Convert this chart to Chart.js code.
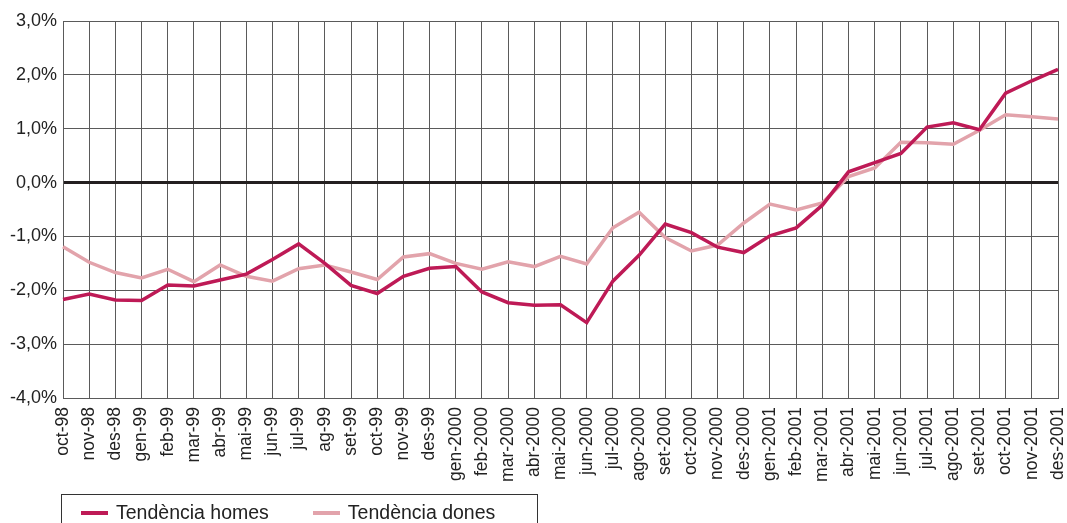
<!DOCTYPE html>
<html>
<head>
<meta charset="utf-8">
<script src="https://cdn.jsdelivr.net/npm/chart.js@4/dist/chart.umd.min.js"></script>
<style>
    html, body { margin: 0; padding: 0; background: #fff; overflow: hidden; }
    #wrap { position: relative; width: 1067px; height: 523px; }
    #legend {
        position: absolute; left: 61px; top: 494px; width: 477px; height: 40px;
        border: 1px solid #333; box-sizing: border-box;
        font-family: "Liberation Sans", Arial, sans-serif; font-size: 19.5px; color: #222;
        display: flex; align-items: flex-start; padding: 6px 0 0 19px; white-space: nowrap;
    }
    .item { display: flex; align-items: center; margin-right: 44px; flex: none; }
    .swatch { width: 27px; height: 4px; margin-right: 8px; flex: none; }
</style>
</head>
<body>
<div id="wrap">
    <canvas id="chart" width="1067" height="523"></canvas>
    <div id="legend"></div>
</div>
<script>
const months = ["oct-98", "nov-98", "des-98", "gen-99", "feb-99", "mar-99", "abr-99", "mai-99", "jun-99", "jul-99", "ag-99", "set-99", "oct-99", "nov-99", "des-99",
    "gen-2000", "feb-2000", "mar-2000", "abr-2000", "mai-2000", "jun-2000", "jul-2000", "ago-2000", "set-2000", "oct-2000", "nov-2000", "des-2000",
    "gen-2001", "feb-2001", "mar-2001", "abr-2001", "mai-2001", "jun-2001", "jul-2001", "ago-2001", "set-2001", "oct-2001", "nov-2001", "des-2001"]

const homes = [-2.17, -2.07, -2.18, -2.19, -1.90, -1.92, -1.81, -1.70, -1.43, -1.14, -1.50, -1.91, -2.06, -1.74, -1.59,
    -1.56, -2.03, -2.23, -2.28, -2.27, -2.60, -1.83, -1.35, -0.77, -0.93, -1.20, -1.30,
    -0.99, -0.84, -0.42, 0.20, 0.37, 0.54, 1.03, 1.11, 0.98, 1.66, 1.89, 2.10]

const dones = [-1.19, -1.48, -1.67, -1.77, -1.61, -1.84, -1.53, -1.74, -1.83, -1.60, -1.53, -1.66, -1.80, -1.38, -1.32,
    -1.50, -1.61, -1.47, -1.56, -1.37, -1.51, -0.84, -0.55, -1.02, -1.27, -1.16, -0.75,
    -0.40, -0.51, -0.38, 0.11, 0.27, 0.75, 0.74, 0.71, 0.97, 1.26, 1.22, 1.18]

const seriesNames = ["Tendència homes", "Tendència dones"]

const font = "'Liberation Sans', Arial, sans-serif"
const gridGrey = "#5a5a5a"

const data = {
    labels: months,
    datasets: [
        {
            label: seriesNames[0],
            data: homes,
            borderColor: "rgb(190, 26, 86)",
            backgroundColor: "rgb(190, 26, 86)",
            borderWidth: 3.5,
            pointRadius: 0,
            tension: 0
        },
        {
            label: seriesNames[1],
            data: dones,
            borderColor: "rgb(226, 163, 171)",
            backgroundColor: "rgb(226, 163, 171)",
            borderWidth: 3.5,
            pointRadius: 0,
            tension: 0
        }
    ]
}

const chart = new Chart(document.querySelector("#chart"), {
    type: "line",
    data: data,
    options: {
        responsive: false,
        animation: false,
        layout: {
            padding: { top: 21, right: 9, bottom: 35, left: 0 }
        },
        scales: {
            x: {
                offset: false,
                grid: {
                    color: gridGrey,
                    lineWidth: 1,
                    drawTicks: false
                },
                border: { color: gridGrey, width: 1 },
                ticks: {
                    autoSkip: false,
                    minRotation: 90,
                    maxRotation: 90,
                    padding: 9,
                    color: "#222",
                    font: { family: font, size: 17.5 }
                },
                afterFit: scale => {
                    scale.height = 90
                    scale.paddingLeft = 0
                    scale.paddingRight = 0
                }
            },
            y: {
                min: -4,
                max: 3,
                grid: {
                    color: ctx => ctx.tick && ctx.tick.value === 0 ? "#231f20" : gridGrey,
                    lineWidth: ctx => ctx.tick && ctx.tick.value === 0 ? 3 : 1,
                    drawTicks: false
                },
                border: { color: gridGrey, width: 1 },
                ticks: {
                    stepSize: 1,
                    padding: 6,
                    color: "#222",
                    font: { family: font, size: 18 },
                    callback: v => v.toFixed(1).replace(".", ",") + "%"
                },
                afterFit: scale => { scale.width = 63 }
            }
        },
        plugins: {
            legend: { display: false },
            tooltip: { enabled: false }
        }
    }
})

// legend box under the chart
const legend = document.querySelector("#legend")
chart.data.datasets.forEach(ds => {
    const item = document.createElement("div")
    item.className = "item"
    const sw = document.createElement("span")
    sw.className = "swatch"
    sw.style.background = ds.borderColor
    const txt = document.createElement("span")
    txt.textContent = ds.label
    item.appendChild(sw)
    item.appendChild(txt)
    legend.appendChild(item)
})
</script>
</body>
</html>
